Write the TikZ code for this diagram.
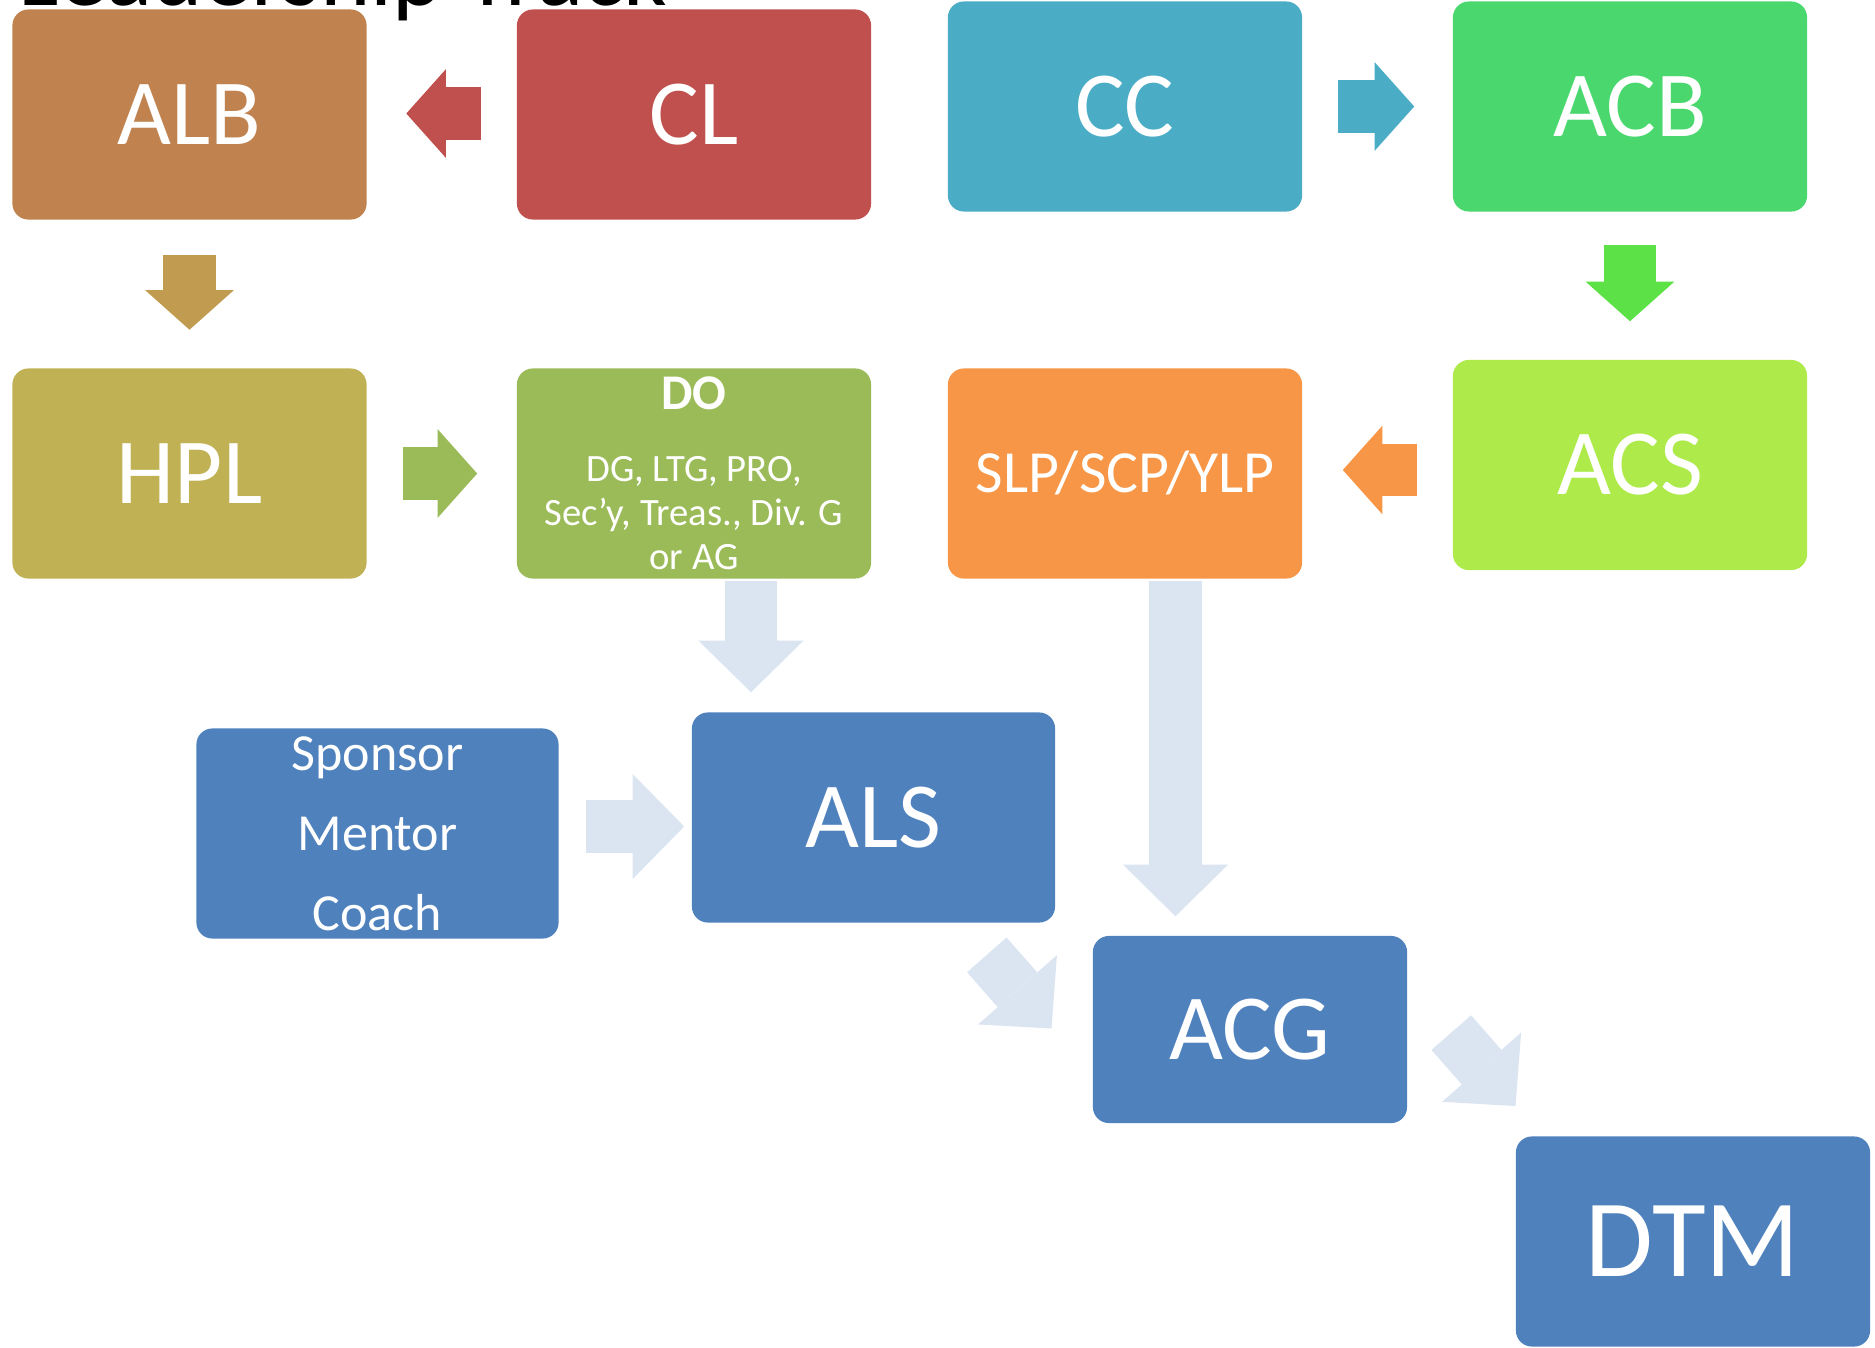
\documentclass[tikz,border=0pt]{standalone}
\usepackage{fontspec}
\setmainfont{Carlito}
\usepackage{tikz}
\usetikzlibrary{arrows.meta}
\usetikzlibrary{calc}

\definecolor{cALB}{HTML}{C0834F}
\definecolor{cALBa}{HTML}{C09B50}
\definecolor{cCL}{HTML}{C0504D}
\definecolor{cCC}{HTML}{4BACC6}
\definecolor{cACB}{HTML}{4AD86E}
\definecolor{cACBa}{HTML}{5CE146}
\definecolor{cHPL}{HTML}{C0B254}
\definecolor{cDO}{HTML}{9BBB59}
\definecolor{cSLP}{HTML}{F79646}
\definecolor{cACS}{HTML}{ADEA4A}
\definecolor{cBlue}{HTML}{4F81BD}
\definecolor{cPale}{HTML}{DBE5F1}

\begin{document}
\begin{tikzpicture}[x=0.01cm, y=-0.01cm,
		stage/.style={fill=#1, rounded corners=1.6mm, minimum width=3.54cm, minimum height=2.1cm,
			inner sep=0pt, text=white, font=\fontsize{26.5}{30}\selectfont},
		bigarrow/.style={draw=#1, line width=5.26mm, -{Triangle[length=3.95mm, width=8.85mm, line width'=0pt]}},
		palearrow/.style={draw=cPale, line width=5.26mm, -{Triangle[length=5.15mm, width=10.5mm, line width'=0pt]}}]
		\useasboundingbox (0,0) rectangle (1875,1348);
		
		% title, cut by the page
		\begin{scope}
			\clip (0,0) rectangle (1875,30);
			\node[anchor=base west, inner sep=0pt, font=\fontsize{27.3}{31}\selectfont] (title) at (18,5) {Leadership Track};
		\end{scope}
		
		% top row
		\node[stage=cALB] (ALB) at (189.5,114.5) {ALB};
		\node[stage=cCL] (CL) at (694,114.5) {CL};
		\node[stage=cCC] (CC) at (1125,106.5) {CC};
		\node[stage=cACB] (ACB) at (1630,106.5) {ACB};
		
		% second row
		\node[stage=cHPL] (HPL) at (189.5,473.5) {HPL};
		\node[stage=cDO, align=center, font=\fontsize{11}{12.5}\selectfont] (DO) at (694,473.5)
			{{\bfseries\fontsize{14.2}{16}\selectfont DO}\\[8pt]DG, LTG, PRO,\\Sec’y, Treas., Div. G\\or AG};
		\node[stage=cSLP, font=\fontsize{17}{20}\selectfont] (SLP) at (1125,473.5) {SLP/SCP/YLP};
		\node[stage=cACS] (ACS) at (1630,465) {ACS};
		
		% blue ones
		\node[stage=cBlue, minimum width=3.62cm, align=center, font=\fontsize{14.8}{22.8}\selectfont] (Sponsor) at (377.5,833.5)
			{Sponsor\\Mentor\\Coach};
		\node[stage=cBlue, minimum width=3.63cm] (ALS) at (873.5,817.5) {ALS};
		\node[stage=cBlue, minimum width=3.14cm, minimum height=1.87cm] (ACG) at (1250,1029.5) {ACG};
		\node[stage=cBlue, font=\fontsize{31.3}{36}\selectfont] (DTM) at (1693,1241.5) {DTM};
		
		% block arrows
		\draw[bigarrow=cCL] ($(CL.west)+(-35,-1)$) -- ($(ALB.east)+(39,-1)$);
		\draw[bigarrow=cCC] ($(CC.east)+(35,0)$) -- ($(ACB.west)+(-38,0)$);
		\draw[bigarrow=cALBa] ($(ALB.south)+(0,34.5)$) -- ($(HPL.north)+(0,-38)$);
		\draw[bigarrow=cACBa] ($(ACB.south)+(0,33)$) -- ($(ACS.north)+(0,-38)$);
		\draw[bigarrow=cDO] ($(HPL.east)+(36,0)$) -- ($(DO.west)+(-39,0)$);
		\draw[bigarrow=cSLP] ($(ACS.west)+(-35,5)$) -- ($(SLP.east)+(40,-3.5)$);
		
		\draw[palearrow] ($(DO.south)+(57,2)$) -- ($(ALS.north)+(-122.5,-19.5)$);
		\draw[palearrow] ($(SLP.south)+(50.5,2)$) -- ($(ACG.north)+(-74.5,-19)$);
		\draw[palearrow] ($(Sponsor.east)+(27,-7)$) -- ($(ALS.west)+(-7,9)$);
		\draw[palearrow] ($(ALS.south east)+(-69,31.6)$) -- ($(ACG.west)+(-40.7,-1)$);
		\draw[palearrow] ($(ACG.east)+(43.5,3.1)$) -- ($(DTM.north west)+(0.3,-29.7)$);
\end{tikzpicture}
\end{document}
